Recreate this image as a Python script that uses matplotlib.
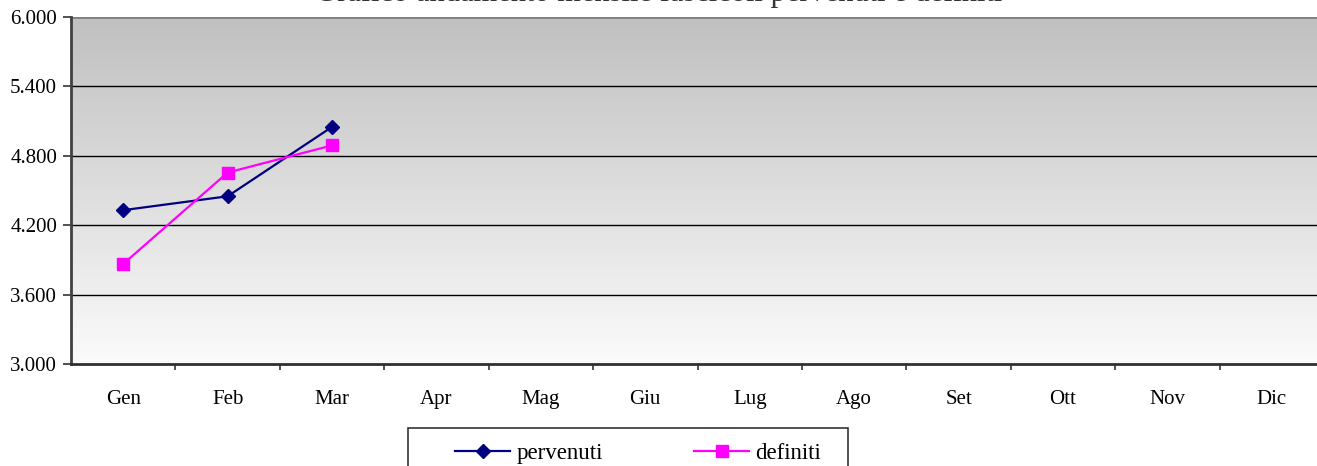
import numpy as np
import matplotlib.pyplot as plt
from matplotlib.lines import Line2D
from matplotlib.patches import Rectangle
from matplotlib.colors import LinearSegmentedColormap

mesi = ['Gen', 'Feb', 'Mar', 'Apr', 'Mag', 'Giu', 'Lug', 'Ago', 'Set', 'Ott', 'Nov', 'Dic']
pervenuti = [4.330, 4.450, 5.050]
definiti = [3.865, 4.655, 4.890]
y_ticks = [3.0, 3.6, 4.2, 4.8, 5.4, 6.0]
y_labels = ['3.000', '3.600', '4.200', '4.800', '5.400', '6.000']

plt.rcParams['font.family'] = ['Liberation Serif', 'DejaVu Serif']

W, H = 1317, 466
fig = plt.figure(figsize=(W / 100, H / 100), dpi=100)
# l'area del grafico esce leggermente a destra, come nell'originale
ax = fig.add_axes([71/W, 1 - 364/H, 1253/W, 347/H])

n = len(mesi)
ax.set_xlim(-0.5, n - 0.5)
ax.set_ylim(3.0, 6.0)

# sfondo sfumato grigio -> bianco
grad = np.linspace(0, 1, 256).reshape(-1, 1)
cmap = LinearSegmentedColormap.from_list('g', ['#fbfbfb', '#c0c0c0'])
ax.imshow(grad, extent=[-0.5, n - 0.5, 3.0, 6.0], origin='lower', aspect='auto',
          cmap=cmap, zorder=0)

for yv in y_ticks[1:-1]:
    ax.axhline(yv, color='black', lw=1.0, zorder=1)
ax.axhline(6.0, color='#808080', lw=2.0, zorder=1)

x = np.arange(n)
ax.plot(x[:len(pervenuti)], pervenuti, color='#000080', marker='D', ms=7, lw=1.6, zorder=3)
ax.plot(x[:len(definiti)], definiti, color='#ff00ff', marker='s', ms=8, lw=1.6, zorder=3)

ax.set_yticks(y_ticks)
ax.set_yticklabels(y_labels, fontsize=15)
ax.set_xticks(x)
ax.set_xticklabels(mesi, fontsize=15)
ax.tick_params(axis='x', length=0, pad=19)
ax.set_xticks(np.arange(0.5, n - 0.5, 1), minor=True)
ax.tick_params(axis='x', which='minor', length=4, width=1.2, color='#333333', direction='out')
ax.tick_params(axis='y', length=6, width=1.2, color='#333333', direction='out', pad=4)

for s in ['top', 'right']:
    ax.spines[s].set_visible(False)
ax.spines['left'].set_color('#404040')
ax.spines['left'].set_linewidth(2.0)
ax.spines['bottom'].set_color('#303030')
ax.spines['bottom'].set_linewidth(2.0)

# titolo (tagliato in alto nell'immagine originale)
fig.text(0.5, 1 - 1/H, 'Grafico andamento mensile fascicoli pervenuti e definiti',
         ha='center', va='baseline', fontsize=22, color='#333333')

# riquadro della legenda (esce dal bordo inferiore)
fig.patches.append(Rectangle((408/W, -10/H), 440/W, (10 + H - 428)/H,
                             transform=fig.transFigure, fill=True, facecolor='white',
                             edgecolor='#333333', lw=1.2, zorder=0))
handles = [
    Line2D([], [], color='#000080', marker='D', ms=7, lw=1.6),
    Line2D([], [], color='#ff00ff', marker='s', ms=8, lw=1.6),
]
leg = fig.legend(handles, ['pervenuti', 'definiti'], loc='center',
                 bbox_to_anchor=(638/W, 1 - 453/H), ncol=2, fontsize=16.5,
                 frameon=False, handlelength=2.4, handletextpad=0.26,
                 columnspacing=4.0, borderpad=0, borderaxespad=0)

fig.savefig('out.png', dpi=100)
